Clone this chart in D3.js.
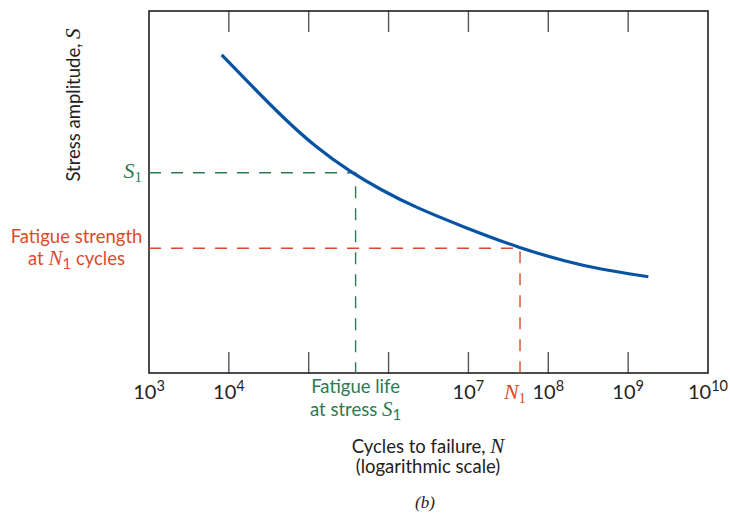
<!DOCTYPE html>
<html>
<head>
<meta charset="utf-8">
<script src="https://cdn.jsdelivr.net/npm/d3@7"></script>
<style>
  html, body { margin: 0; padding: 0; background: #fff; }
  svg { display: block; }
  .sans { font-family: Lato, "Open Sans", sans-serif; }
  .serif { font-family: "Liberation Serif", "DejaVu Serif", serif; font-style: italic; }
</style>
</head>
<body>
<svg id="chart" width="730" height="514"></svg>
<script>
// ---- data ----
const tickExponents = [3, 4, 5, 6, 7, 8, 9, 10];
const labeledExponents = [3, 4, 7, 8, 9, 10];
const curveLogN = [3.910, 4.243, 4.662, 5.079, 5.538, 5.914, 6.310, 6.978, 7.646, 8.231, 8.648, 9.253];
const curveS    = [87.9, 80.3, 70.9, 62.5, 55.3, 50.5, 46.0, 40.0, 34.45, 30.75, 28.65, 26.6];
const s1Level = 55.3;
const s1LifeLogN = 5.587;
const n1LogN = 7.646;
const n1Strength = 34.45;

// ---- layout ----
const svg = d3.select("#chart");
const pLeft = 149, pRight = 708, pTop = 11, pBottom = 373;
const x = d3.scaleLinear().domain([3, 10]).range([pLeft, pRight]);
const y = d3.scaleLinear().domain([0, 100]).range([pBottom, pTop]);

const green = "#2b7a52", red = "#dc4a2c", blue = "#0652a3";
const fsz = 18.5;

// ticks (inner, bottom and top)
const tickLen = 21;
const inner = tickExponents.slice(1, -1);
svg.append("g").selectAll("line").data(inner).join("line")
  .attr("x1", d => x(d)).attr("x2", d => x(d))
  .attr("y1", pBottom).attr("y2", pBottom - tickLen)
  .attr("stroke", "#555").attr("stroke-width", 1.4);
svg.append("g").selectAll("line").data(inner).join("line")
  .attr("x1", d => x(d)).attr("x2", d => x(d))
  .attr("y1", pTop).attr("y2", pTop + tickLen)
  .attr("stroke", "#555").attr("stroke-width", 1.4);

// frame
svg.append("rect").attr("x", pLeft).attr("y", pTop)
  .attr("width", pRight - pLeft).attr("height", pBottom - pTop)
  .attr("fill", "none").attr("stroke", "#111").attr("stroke-width", 1.5);

// tick labels
const tl = svg.append("g").attr("class", "sans").attr("fill", "#222");
labeledExponents.forEach(e => {
  const t = tl.append("text").attr("x", x(e)).attr("y", 399)
    .attr("text-anchor", "middle").attr("font-size", 20);
  t.append("tspan").text("10");
  t.append("tspan").attr("dy", -8).attr("font-size", 14.5).text(String(e));
});

// dashed guide lines
svg.append("path")
  .attr("d", `M${x(3)},${y(s1Level)}H${x(s1LifeLogN)}V${y(0)}`)
  .attr("fill", "none").attr("stroke", green).attr("stroke-width", 1.4)
  .attr("stroke-dasharray", "12,10");
svg.append("path")
  .attr("d", `M${x(3)},${y(n1Strength)}H${x(n1LogN)}V${y(0)}`)
  .attr("fill", "none").attr("stroke", red).attr("stroke-width", 1.4)
  .attr("stroke-dasharray", "12,10");

// S-N curve
const pts = curveLogN.map((v, i) => [v, curveS[i]]);
svg.append("path").datum(pts)
  .attr("d", d3.line().x(d => x(d[0])).y(d => y(d[1])).curve(d3.curveBasis))
  .attr("fill", "none").attr("stroke", blue).attr("stroke-width", 3.2)
  .attr("stroke-linecap", "butt");

// S1 label
const s1 = svg.append("text").attr("class", "serif").attr("fill", green)
  .attr("x", 142).attr("y", y(s1Level) + 5).attr("text-anchor", "end").attr("font-size", 22);
s1.append("tspan").text("S");
s1.append("tspan").attr("dy", 4).attr("font-size", 15).attr("font-style", "normal").text("1");

// Fatigue strength label
const fs = svg.append("g").attr("fill", red);
fs.append("text").attr("class", "sans").attr("x", 76.5).attr("y", 243)
  .attr("text-anchor", "middle").attr("font-size", fsz).text("Fatigue strength");
const fs2 = fs.append("text").attr("class", "sans").attr("x", 76.5).attr("y", 265)
  .attr("text-anchor", "middle").attr("font-size", fsz);
fs2.append("tspan").text("at ");
fs2.append("tspan").attr("class", "serif").attr("font-size", 21).text("N");
fs2.append("tspan").attr("dy", 4).attr("font-size", 15).text("1");
fs2.append("tspan").attr("dy", -4).text(" cycles");

// Fatigue life label
const fl = svg.append("g").attr("fill", green);
fl.append("text").attr("class", "sans").attr("x", x(s1LifeLogN)).attr("y", 393)
  .attr("text-anchor", "middle").attr("font-size", fsz).text("Fatigue life");
const fl2 = fl.append("text").attr("class", "sans").attr("x", x(s1LifeLogN)).attr("y", 416)
  .attr("text-anchor", "middle").attr("font-size", fsz);
fl2.append("tspan").text("at stress ");
fl2.append("tspan").attr("class", "serif").attr("font-size", 21).text("S");
fl2.append("tspan").attr("dy", 4).attr("font-size", 15).text("1");

// N1 label
const n1 = svg.append("text").attr("class", "serif").attr("fill", red)
  .attr("x", x(n1LogN) - 5).attr("y", 399).attr("text-anchor", "middle").attr("font-size", 22);
n1.append("tspan").text("N");
n1.append("tspan").attr("dy", 4).attr("font-size", 15).attr("font-style", "normal").text("1");

// axis titles
const xt = svg.append("text").attr("class", "sans").attr("fill", "#222")
  .attr("x", 428).attr("y", 453).attr("text-anchor", "middle").attr("font-size", fsz);
xt.append("tspan").text("Cycles to failure, ");
xt.append("tspan").attr("class", "serif").attr("font-size", 21).text("N");
svg.append("text").attr("class", "sans").attr("fill", "#222")
  .attr("x", 428).attr("y", 473).attr("text-anchor", "middle").attr("font-size", fsz)
  .text("(logarithmic scale)");

const yt = svg.append("text").attr("class", "sans").attr("fill", "#222")
  .attr("transform", "translate(80,105) rotate(-90)")
  .attr("text-anchor", "middle").attr("font-size", fsz);
yt.append("tspan").text("Stress amplitude, ");
yt.append("tspan").attr("class", "serif").attr("font-size", 21).text("S");

svg.append("text").attr("class", "serif").attr("fill", "#222")
  .attr("x", 425).attr("y", 508).attr("text-anchor", "middle").attr("font-size", 17)
  .text("(b)");
</script>
</body>
</html>
